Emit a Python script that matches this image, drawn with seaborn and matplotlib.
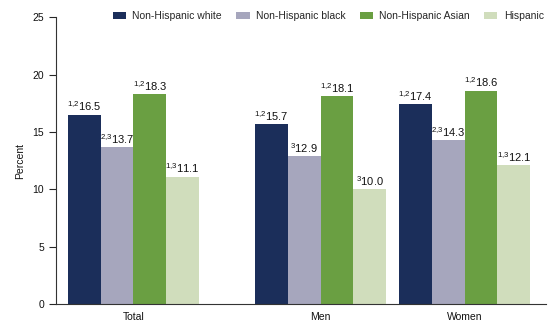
import matplotlib
matplotlib.use("Agg")
import matplotlib.pyplot as plt
import seaborn as sns
import pandas as pd

categories = ["Total", "Men", "Women"]
groups = ["Non-Hispanic white", "Non-Hispanic black", "Non-Hispanic Asian", "Hispanic"]
white = [16.5, 15.7, 17.4]
black = [13.7, 12.9, 14.3]
asian = [18.3, 18.1, 18.6]
hispanic = [11.1, 10.0, 12.1]
white_sup = ["1,2", "1,2", "1,2"]
black_sup = ["2,3", "3", "2,3"]
asian_sup = ["1,2", "1,2", "1,2"]
hispanic_sup = ["1,3", "3", "1,3"]

# layout positions of category groups (x axis)
positions = [0.0, 1.3, 2.3]
colors = ["#1b2e5a", "#a6a6bd", "#6a9f42", "#d0ddbc"]

series = [white, black, asian, hispanic]
sups = [white_sup, black_sup, asian_sup, hispanic_sup]
rows = []
for g, vals, ss in zip(groups, series, sups):
    for c, p, v, s in zip(categories, positions, vals, ss):
        rows.append({"cat": c, "pos": p, "group": g, "value": v, "sup": s})
df = pd.DataFrame(rows)

sns.set_theme(style="ticks")
plt.rcParams["font.family"] = ["Liberation Sans", "DejaVu Sans"]
plt.rcParams["mathtext.fontset"] = "custom"
plt.rcParams["mathtext.rm"] = "Liberation Sans"

fig, ax = plt.subplots(figsize=(5.6, 3.32), dpi=100)
fig.subplots_adjust(left=0.1, right=0.975, top=0.948, bottom=0.084)

sns.barplot(data=df, x="pos", y="value", hue="group", hue_order=groups,
            palette=colors, native_scale=True, width=0.91, dodge=True,
            saturation=1, errorbar=None, ax=ax, linewidth=0)

# value labels
for container, g in zip(ax.containers, groups):
    sub = df[df["group"] == g].reset_index(drop=True)
    for bar, (_, r) in zip(container, sub.iterrows()):
        x = bar.get_x() + bar.get_width() / 2
        y = bar.get_height()
        sup = r["sup"].replace(",", "{,}")
        ax.annotate(r"$^{\mathrm{" + sup + "}}$" + f"{r['value']:.1f}",
                    (x, y), xytext=(0, 1.0), textcoords="offset points",
                    ha="center", va="bottom", fontsize=8, color="#111111")

ax.set_xlim(-0.538, 2.865)
ax.set_ylim(0, 25)
ax.set_yticks([0, 5, 10, 15, 20, 25])
ax.set_xticks(positions)
ax.set_xticklabels(categories)
ax.tick_params(axis="x", length=0, labelsize=7.5, pad=6, labelcolor="#111111")
ax.tick_params(axis="y", length=5, labelsize=7.5, width=0.8, labelcolor="#111111")
ax.set_xlabel("")
ax.set_ylabel("Percent", fontsize=7.5, labelpad=5, color="#111111")
sns.despine(ax=ax)
for s in ["left", "bottom"]:
    ax.spines[s].set_linewidth(0.8)
    ax.spines[s].set_color("#333333")

ax.legend(loc="center left", bbox_to_anchor=(113 / 560, 1 - 16 / 332),
          bbox_transform=fig.transFigure, ncol=4, frameon=False,
          fontsize=7.5, handlelength=1.25, handleheight=0.6, columnspacing=1.4,
          handletextpad=0.6, borderpad=0, borderaxespad=0)

fig.savefig("out.png", dpi=100)
